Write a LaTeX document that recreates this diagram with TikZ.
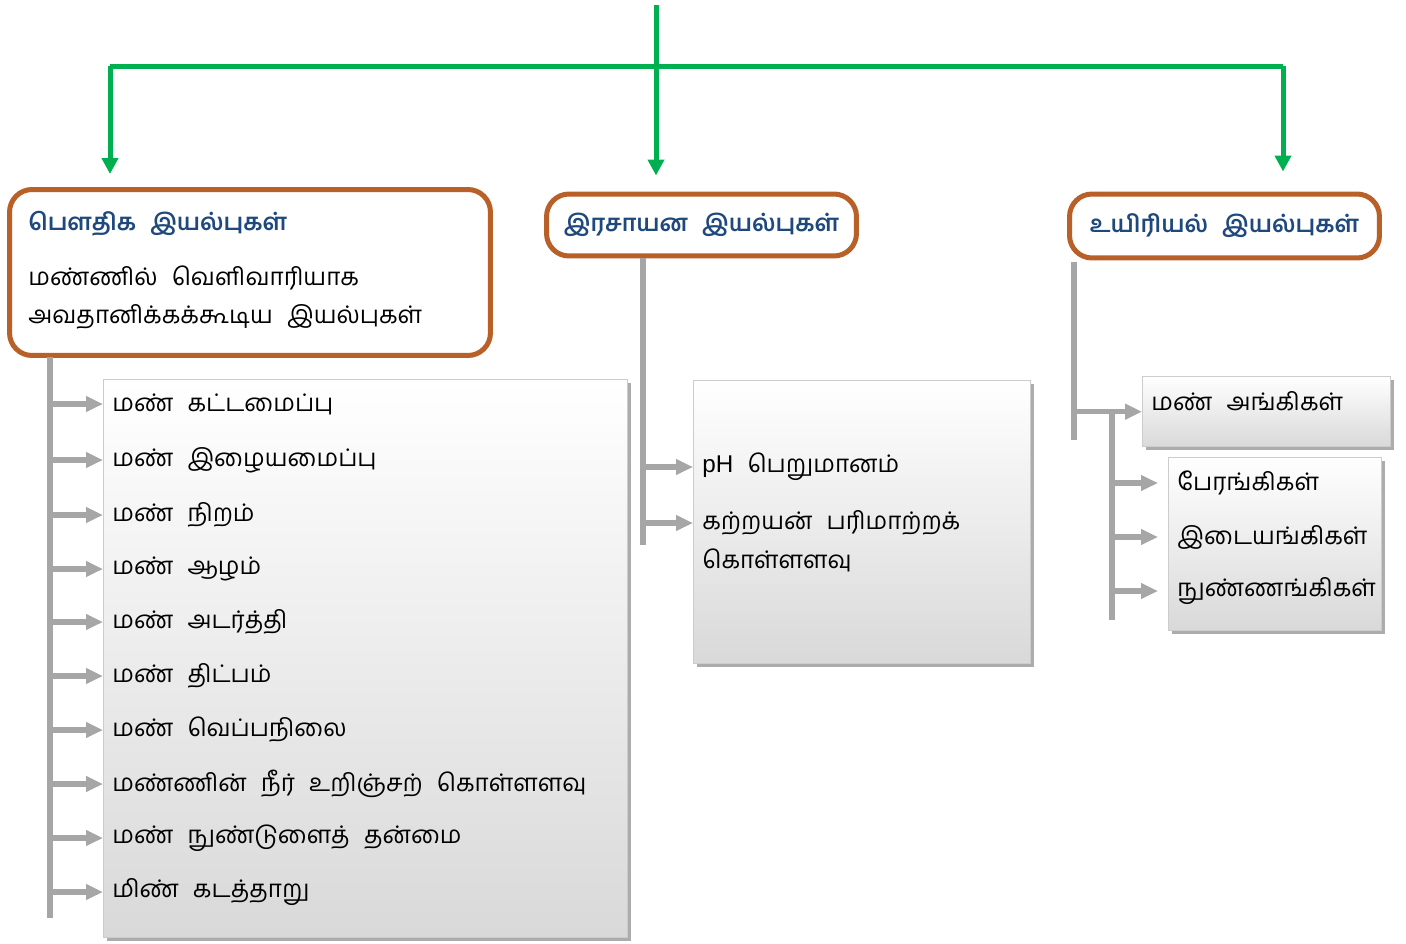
\documentclass[tikz,border=0pt]{standalone}
\usepackage{fontspec}
\setmainfont[Script=Tamil,WordSpace=2.4]{Hind Madurai}
\newfontfamily\latinfont{Liberation Sans}
\usetikzlibrary{arrows.meta,shadows,positioning}
\definecolor{tgreen}{RGB}{0,176,80}
\definecolor{tbrown}{RGB}{184,96,40}
\definecolor{tblue}{RGB}{31,73,125}
\definecolor{tgray}{RGB}{166,166,166}
\tikzset{
  headbox/.style={draw=tbrown,line width=0.1cm,rounded corners=0.45cm,fill=white,inner sep=0},
  listbox/.style={draw=gray!40,line width=0.8pt,top color=white,bottom color=gray!30,
    general shadow={fill=gray!65,shadow xshift=0.07cm,shadow yshift=-0.07cm},inner sep=0,anchor=north west},
  item/.style={anchor=west,inner xsep=0.18cm,inner ysep=0,font=\fontsize{13.8}{17}\selectfont},
  ttl/.style={font=\fontsize{13.4}{16}\selectfont\bfseries,text=tblue},
  gline/.style={tgreen,line width=0.1cm},
  garrow/.style={tgray,line width=0.11cm,-{Triangle[length=0.34cm,width=0.3cm]}},
  gtrunk/.style={tgray,line width=0.11cm}
}
\begin{document}
\begin{tikzpicture}[x=0.02cm,y=-0.02cm,line join=miter,
  >={Triangle[length=0.32cm,width=0.32cm]}]
\useasboundingbox (0,0) rectangle (1406,943);
\path
(656,5)coordinate(top)
(656,66)coordinate(mid)
(110,66)coordinate(left)
(1283,66)coordinate(right)
(50,357)coordinate(pt1)
(50,918)coordinate(pt2)
(643,258)coordinate(ct1)
(643,545)coordinate(ct2)
(1074,262)coordinate(bt1)
(1074,440)coordinate(bt2)
(1112,414)coordinate(bs1)
(1112,620)coordinate(bs2)
;
% heading boxes
\node[headbox,minimum width=9.62cm,minimum height=3.32cm] (phys) at (250,272.5) {};
\node[ttl,anchor=west,inner sep=0] (physT) at (28,224) {பௌதிக இயல்புகள்};
\node[item,inner xsep=0] (physA) at (28,278) {மண்ணில் வெளிவாரியாக};
\node[item,inner xsep=0] (physB) at (28,317) {அவதானிக்கக்கூடிய இயல்புகள்};
\node[headbox,ttl,minimum width=6.2cm,minimum height=1.24cm] (chem) at (701.5,225) {இரசாயன இயல்புகள்};
\node[headbox,ttl,minimum width=6.2cm,minimum height=1.28cm] (bio) at (1224.5,226) {உயிரியல் இயல்புகள்};
% green arrows
\draw[gline](left)--(right);
\draw[gline,->](left)--(left|-phys.north)[shorten >=0.26cm];
\draw[gline,->](top)--(top|-chem.north)[shorten >=0.32cm];
\draw[gline,->](right)--(right|-bio.north)[shorten >=0.4cm];
% physical list
\node[listbox,minimum width=10.48cm,minimum height=11.16cm] (plist) at (103,379) {};
\node[item] (p1) at (103,404) {மண் கட்டமைப்பு};
\node[item] (p2) at (103,460) {மண் இழையமைப்பு};
\node[item] (p3) at (103,515) {மண் நிறம்};
\node[item] (p4) at (103,569) {மண் ஆழம்};
\node[item] (p5) at (103,622) {மண் அடர்த்தி};
\node[item] (p6) at (103,676) {மண் திட்பம்};
\node[item] (p7) at (103,730) {மண் வெப்பநிலை};
\node[item] (p8) at (103,784) {மண்ணின் நீர் உறிஞ்சற் கொள்ளளவு};
\node[item] (p9) at (103,838) {மண் நுண்டுளைத் தன்மை};
\node[item] (p10) at (103,892) {மிண் கடத்தாறு};
\draw[gtrunk](pt1)--(pt2);
\draw[garrow](pt1|-p1.west)--(p1.west);
\draw[garrow](pt1|-p2.west)--(p2.west);
\draw[garrow](pt1|-p3.west)--(p3.west);
\draw[garrow](pt1|-p4.west)--(p4.west);
\draw[garrow](pt1|-p5.west)--(p5.west);
\draw[garrow](pt1|-p6.west)--(p6.west);
\draw[garrow](pt1|-p7.west)--(p7.west);
\draw[garrow](pt1|-p8.west)--(p8.west);
\draw[garrow](pt1|-p9.west)--(p9.west);
\draw[garrow](pt1|-p10.west)--(p10.west);
% chemical list
\node[listbox,minimum width=6.74cm,minimum height=5.66cm] (clist) at (693,380) {};
\node[item] (c1) at (693,467) {{\latinfont pH} பெறுமானம்};
\node[item] (c2) at (693,523) {கற்றயன் பரிமாற்றக்};
\node[item] (c3) at (693,560) {கொள்ளளவு};
\draw[gtrunk](ct1)--(ct2);
\draw[garrow](ct1|-c1.west)--(c1.west);
\draw[garrow](ct1|-c2.west)--(c2.west);
% biological list
\node[listbox,minimum width=4.96cm,minimum height=1.4cm] (blist) at (1142,376) {};
\node[item] (b0) at (1142,401) {மண் அங்கிகள்};
\node[listbox,minimum width=4.26cm,minimum height=3.46cm] (slist) at (1168,457) {};
\node[item] (b1) at (1168,483) {பேரங்கிகள்};
\node[item] (b2) at (1168,537) {இடையங்கிகள்};
\node[item] (b3) at (1168,591) {நுண்ணங்கிகள்};
\draw[gtrunk](bt1)--(bt2);
\draw[gtrunk](bs1)--(bs2);
\draw[garrow](bt1|-blist.west)--(blist.west);
\draw[garrow,shorten >=0.2cm](bs1|-b1.west)--(b1.west);
\draw[garrow,shorten >=0.2cm](bs1|-b2.west)--(b2.west);
\draw[garrow,shorten >=0.2cm](bs1|-b3.west)--(b3.west);
\end{tikzpicture}
\end{document}
